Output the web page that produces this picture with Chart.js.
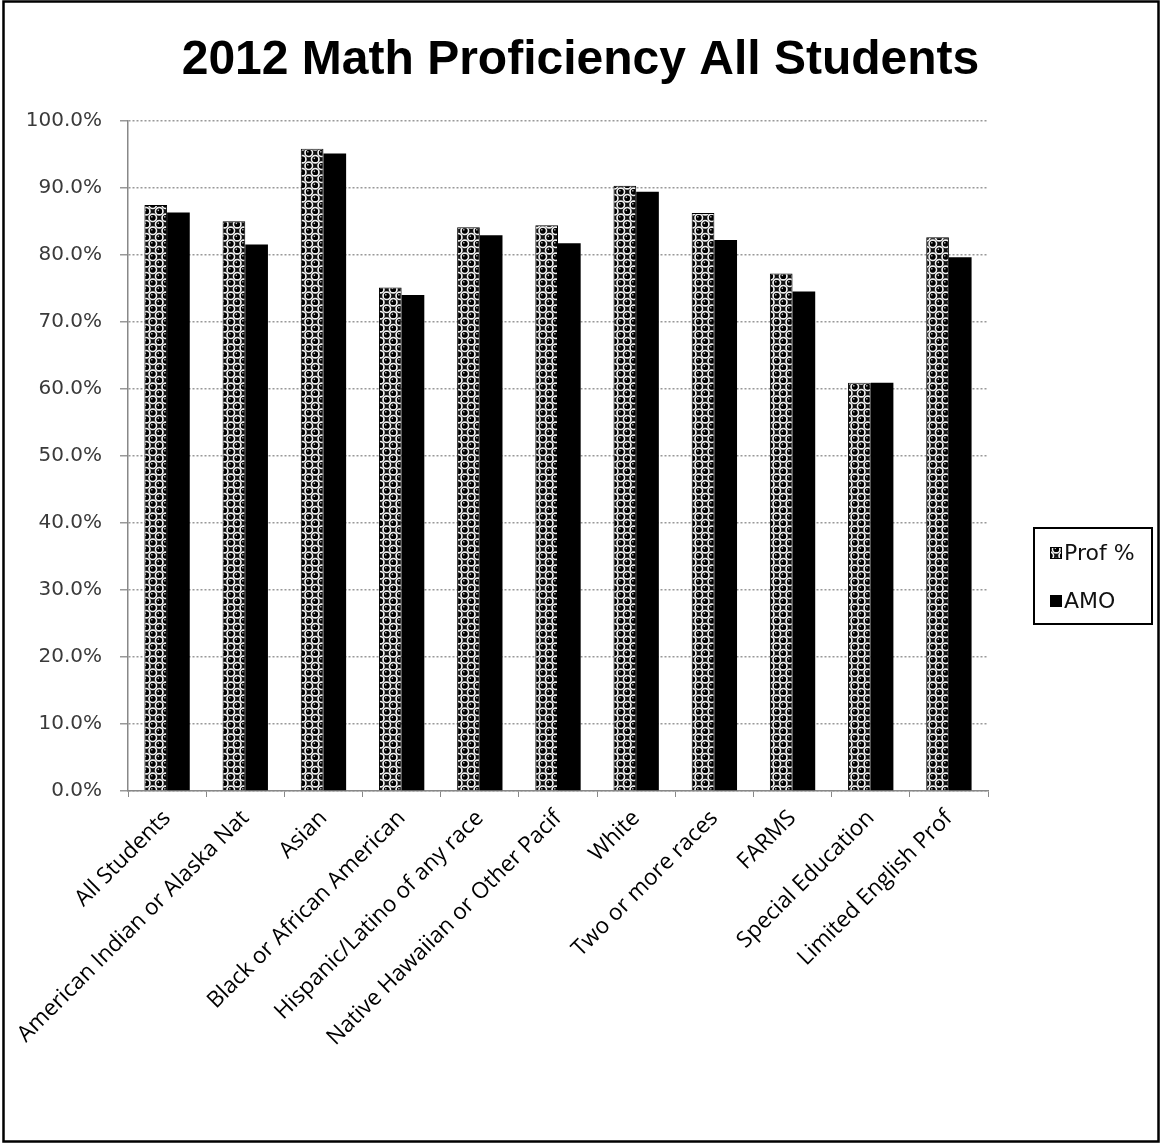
<!DOCTYPE html>
<html>
<head>
<meta charset="utf-8">
<script src="https://cdn.jsdelivr.net/npm/chart.js@4.4.0/dist/chart.umd.min.js"></script>
<style>
  html, body { margin: 0; padding: 0; background: #ffffff; }
  #wrap { width: 1161px; height: 1144px; position: relative; }
  canvas { display: block; }
</style>
</head>
<body>
<div id="wrap"><canvas id="c" width="1161" height="1144"></canvas></div>
<script>
// ---- Data ----
const titleText = "2012 Math Proficiency All Students";
const categories = [
  "All Students",
  "American Indian or Alaska Nat",
  "Asian",
  "Black or African American",
  "Hispanic/Latino of any race",
  "Native Hawaiian or Other Pacif",
  "White",
  "Two or more races",
  "FARMS",
  "Special Education",
  "Limited English Prof"
];
const seriesNames = ["Prof %", "AMO"];
const profValues = [87.4, 85.0, 95.8, 75.1, 84.1, 84.4, 90.3, 86.2, 77.2, 60.9, 82.6];
const amoValues  = [86.3, 81.5, 95.1, 74.0, 82.9, 81.7, 89.4, 82.2, 74.5, 60.9, 79.6];
const yTickMax = 100;
const yTickStep = 10;

// ---- Pattern for "Prof %" bars ----
function makePattern() {
  const s = 13;
  const pc = document.createElement('canvas');
  pc.width = s; pc.height = s;
  const g = pc.getContext('2d');
  g.fillStyle = '#101010';
  g.fillRect(0, 0, s, s);
  const h = s / 2;
  const centers = [];
  [[h / 2, h / 2], [h / 2 + h, h / 2 + h]].forEach(([x, y]) => {
    for (let dx = -s; dx <= s; dx += s) for (let dy = -s; dy <= s; dy += s) centers.push([x + dx, y + dy]);
  });
  g.strokeStyle = '#f0f0f0';
  g.lineWidth = 1.7;
  centers.forEach(([x, y]) => { g.beginPath(); g.arc(x, y, 3.7, 0, Math.PI * 2); g.stroke(); });
  g.fillStyle = '#000';
  centers.forEach(([x, y]) => { g.beginPath(); g.arc(x, y, 2.7, 0, Math.PI * 2); g.fill(); });
  g.fillStyle = '#cfcfcf';
  centers.forEach(([x, y]) => { g.beginPath(); g.arc(x - 0.9, y - 0.9, 0.8, 0, Math.PI * 2); g.fill(); });
  return g.createPattern(pc, 'repeat');
}
const ctx = document.getElementById('c').getContext('2d');
const profPattern = makePattern();

const AREA_LEFT = 128, AREA_RIGHT = 988, AREA_BOTTOM = 791;

// ---- Plugins: frame and legend box ----
const framePlugin = {
  id: 'frame',
  beforeDraw(chart) {
    const c = chart.ctx;
    c.save();
    c.fillStyle = '#fff';
    c.fillRect(0, 0, chart.width, chart.height);
    c.restore();
  },
  afterDraw(chart) {
    const c = chart.ctx;
    c.save();
    c.strokeStyle = '#000';
    c.lineWidth = 2.5;
    c.strokeRect(3.5, 1.5, chart.width - 6, chart.height - 4);
    c.restore();
  }
};

const legendBoxPlugin = {
  id: 'legendBox',
  afterDraw(chart) {
    const c = chart.ctx;
    const bx = 1034, by = 528, bw = 118, bh = 96;
    c.save();
    c.strokeStyle = '#000';
    c.lineWidth = 2;
    c.strokeRect(bx, by, bw, bh);
    c.font = '22px "DejaVu Sans"';
    c.textBaseline = 'middle';
    c.textAlign = 'left';
    const ys = [553, 601];
    chart.data.datasets.forEach((ds, i) => {
      const y = ys[i];
      c.fillStyle = ds.backgroundColor;
      c.fillRect(1050, y - 6, 12, 12);
      c.strokeStyle = '#000';
      c.lineWidth = 1;
      c.strokeRect(1050.5, y - 5.5, 11, 11);
      c.fillStyle = '#111';
      c.fillText(ds.label, 1064, y + 1);
    });
    c.restore();
  }
};

new Chart(ctx, {
  type: 'bar',
  data: {
    labels: categories,
    datasets: [
      {
        label: seriesNames[0],
        data: profValues,
        backgroundColor: profPattern,
        borderColor: '#000',
        borderWidth: 1,
        categoryPercentage: 0.58,
        barPercentage: 1.0
      },
      {
        label: seriesNames[1],
        data: amoValues,
        backgroundColor: '#000',
        borderWidth: 0,
        categoryPercentage: 0.58,
        barPercentage: 1.0
      }
    ]
  },
  options: {
    responsive: false,
    animation: false,
    devicePixelRatio: 1,
    layout: { padding: 0 },
    plugins: {
      legend: { display: false },
      tooltip: { enabled: false },
      title: {
        display: true,
        text: titleText,
        color: '#000',
        font: { family: '"Liberation Sans", Arial, sans-serif', size: 48, weight: 'bold', lineHeight: 1.2 },
        padding: { top: 32, bottom: 31 }
      }
    },
    scales: {
      x: {
        offset: true,
        grid: {
          offset: true,
          drawOnChartArea: false,
          drawTicks: true,
          tickLength: 6,
          color: '#888'
        },
        border: { display: true, color: '#888', width: 1.5, dash: [2, 2] },
        ticks: {
          autoSkip: false,
          maxRotation: 45,
          minRotation: 45,
          padding: 8,
          color: '#000',
          font: { family: '"Open Sans", sans-serif', size: 22.5 }
        },
        afterFit(scale) { scale.height = 1144 - AREA_BOTTOM; }
      },
      y: {
        min: 0,
        max: yTickMax,
        ticks: {
          stepSize: yTickStep,
          padding: 18,
          color: '#3a3a3a',
          font: { family: '"DejaVu Sans", Verdana, sans-serif', size: 20 },
          callback: (v) => v.toFixed(1) + '%'
        },
        grid: {
          color: '#999',
          lineWidth: 1.5,
          tickLength: 8,
          drawTicks: true
        },
        border: { display: true, color: '#888', width: 1.5, dash: [2, 2] },
        afterFit(scale) { scale.width = AREA_LEFT; }
      },
      yRight: {
        position: 'right',
        display: true,
        grid: { display: false, drawTicks: false },
        border: { display: false },
        ticks: { display: false },
        afterFit(scale) { scale.width = 1161 - AREA_RIGHT; }
      }
    }
  },
  plugins: [framePlugin, legendBoxPlugin]
});
</script>
</body>
</html>
